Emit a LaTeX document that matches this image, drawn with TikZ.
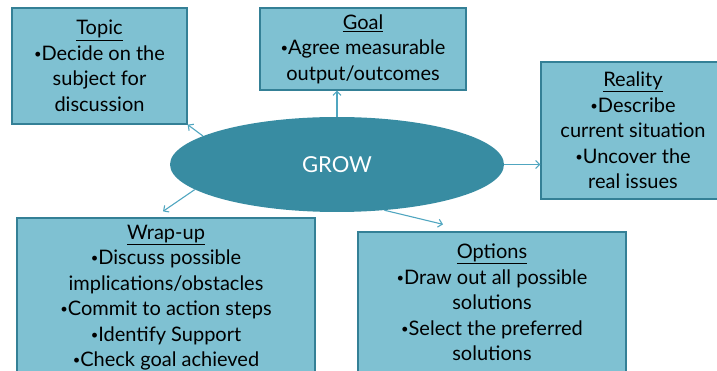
\documentclass[tikz,border=0pt]{standalone}
\usepackage{fontspec}
\setmainfont{Lato}
\usetikzlibrary{shapes.geometric,arrows.meta}
\definecolor{boxfill}{RGB}{127,193,210}
\definecolor{boxline}{RGB}{52,128,150}
\definecolor{growfill}{RGB}{56,140,162}
\definecolor{arrowline}{RGB}{80,166,192}
\newcommand{\gbul}{\raisebox{1.8pt}{\fontsize{13}{13}\selectfont•}}
\tikzset{
    growbox/.style={draw=boxline, line width=1.3pt, fill=boxfill, align=center,
        inner sep=0pt, font=\fontsize{20}{25.5}\selectfont},
    growarrow/.style={draw=arrowline, line width=1.1pt,
        -{Straight Barb[length=4pt,width=8pt]}}
}

\begin{document}
\begin{tikzpicture}[x=1pt, y=-1pt]
    \path[use as bounding box, clip] (0, 0) rectangle (717, 371);
    % Centre of the model.
    \node[ellipse, fill=growfill, inner sep=0pt, minimum width=334pt, minimum height=95pt,
        text=white, font=\fontsize{22}{24}\selectfont] (grow) at (337, 164.5) {GROW};
    % The five stages round it.
    \node[growbox, minimum width=175pt, minimum height=116pt] (topic) at (99.5, 66)
        {\underline{Topic}\\\gbul Decide on the\\subject for\\discussion};
    \node[growbox, minimum width=206pt, minimum height=82pt] (goal) at (363, 49)
        {\underline{Goal}\\\gbul Agree measurable\\output/outcomes};
    \node[growbox, minimum width=184pt, minimum height=137pt] (reality) at (633, 130.5)
        {\underline{Reality}\\\gbul Describe\\current situation\\\gbul Uncover the\\real issues};
    \node[growbox, minimum width=268pt, minimum height=141pt] (options) at (492, 302.5)
        {\underline{Options}\\\gbul Draw out all possible\\solutions\\\gbul Select the preferred\\solutions};
    \node[growbox, minimum width=298pt, minimum height=159pt] (wrapup) at (166, 297.5)
        {\underline{Wrap-up}\\\gbul Discuss possible\\implications/obstacles\\\gbul Commit to action steps\\\gbul Identify Support\\\gbul Check goal achieved};
    % Connectors.
    \draw[growarrow] (grow.168) -- (topic.south east);
    \draw[growarrow] (grow.north) -- (grow.north |- goal.south);
    \draw[growarrow] (grow.east) -- (reality.west |- grow.east);
    \draw[growarrow] (grow.316) -- ([xshift=-49pt, yshift=7pt]options.north);
    \draw[growarrow] (grow.190) -- ([xshift=-3pt, yshift=6pt]wrapup.north);
\end{tikzpicture}
\end{document}
